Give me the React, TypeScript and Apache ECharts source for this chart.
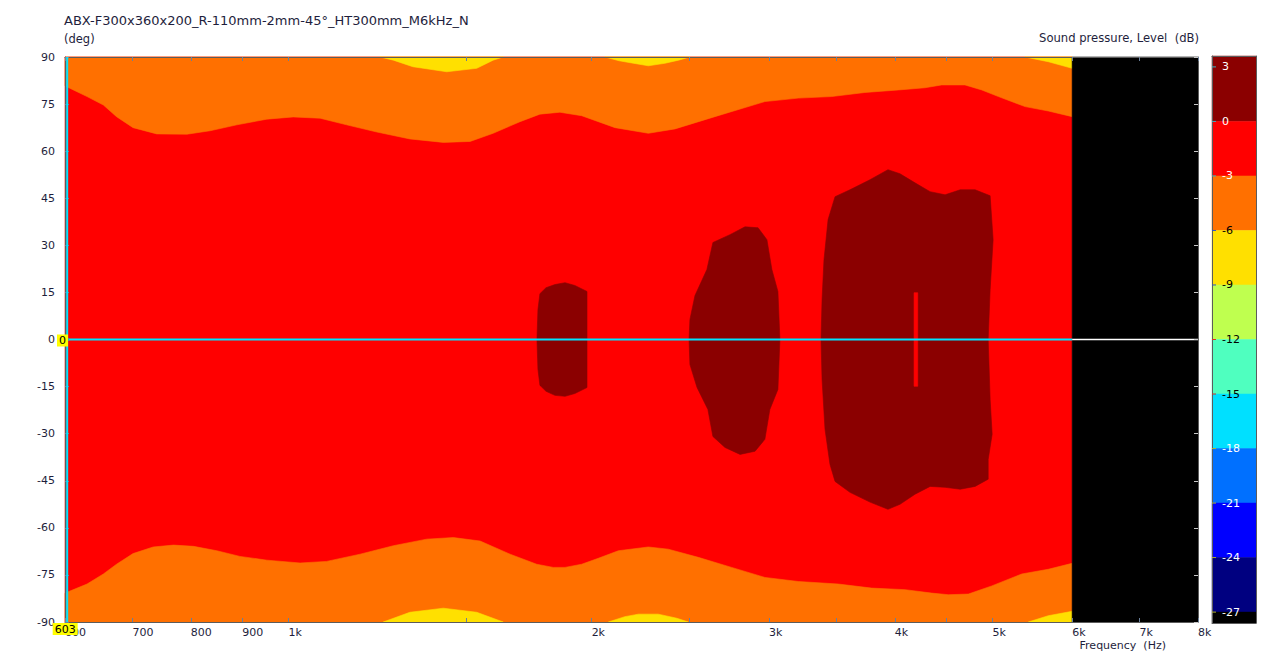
import { useEffect, useRef } from 'react';
import * as echarts from 'echarts';

// ---------- texts ----------
const CHART_TITLE = 'ABX-F300x360x200_R-110mm-2mm-45°_HT300mm_M6kHz_N';
const Y_NAME = '(deg)';
const X_NAME = 'Frequency  (Hz)';
const SCALE_NAME = 'Sound pressure, Level  (dB)';

// ---------- axes ----------
const FREQ_MIN = 600;
const FREQ_MAX = 8000;
const FREQ_DATA_MAX = 6000;
const ANGLE_MIN = -90;
const ANGLE_MAX = 90;
const ANGLE_STEP = 15;
const X_TICK_FREQS = [600, 700, 800, 900, 1000, 1500, 2000, 2500, 3000, 3500, 4000, 4500, 5000, 6000, 7000, 8000];
const X_LABEL_FREQS = [600, 700, 800, 900, 1000, 2000, 3000, 4000, 5000, 6000, 7000, 8000];

// ---------- cursor ----------
const CURSOR_FREQ = 603;
const CURSOR_ANGLE = 0;

// ---------- contour regions [Hz, deg] ----------
// -3 dB contour, upper side
const TOP_EDGE = [
  [600, 80.8], [631, 77.4], [655, 74.7], [675, 71.0], [701, 67.5], [740, 65.5], [793, 65.4], [836, 66.5],
  [889, 68.4], [952, 70.2], [1011, 70.9], [1075, 70.5], [1142, 68.4], [1224, 66.1], [1320, 63.9], [1425, 62.8],
  [1515, 63.1], [1597, 65.7], [1698, 69.4], [1777, 71.8], [1860, 72.4], [1955, 71.3], [2110, 67.5], [2277, 65.7],
  [2420, 67.1], [2651, 71.0], [2972, 75.8], [3208, 76.9], [3462, 77.4], [3736, 78.7], [4033, 79.5], [4285, 80.2],
  [4452, 81.1], [4696, 81.1], [4880, 79.5], [5069, 77.4], [5387, 74.2], [5681, 72.8], [6000, 71.0],
];
// -3 dB contour, lower side
const BOTTOM_EDGE = [
  [600, -80.8], [631, -77.9], [655, -74.7], [675, -71.6], [701, -68.2], [734, -66.1], [769, -65.5], [805, -65.9],
  [849, -67.3], [895, -69.1], [952, -70.3], [1027, -71.2], [1091, -70.7], [1178, -68.4], [1271, -65.7], [1372, -63.6],
  [1458, -63.1], [1550, -64.2], [1660, -68.4], [1764, -71.6], [1832, -72.6], [1882, -72.6], [1955, -71.6], [2031, -69.7],
  [2126, -67.3], [2277, -66.1], [2383, -66.8], [2552, -69.4], [2754, -72.6], [2972, -75.8], [3208, -77.1], [3515, -77.9],
  [3793, -79.2], [4095, -79.7], [4352, -80.8], [4520, -81.3], [4732, -81.1], [4993, -78.5], [5347, -74.7], [5681, -73.2],
  [6000, -71.3],
];
// -6 dB regions
const YELLOW_TOP_1 = [[1233, 90], [1271, 89.0], [1329, 86.9], [1436, 85.3], [1538, 86.4], [1597, 89.0], [1634, 90]];
const YELLOW_TOP_2 = [[2062, 90], [2130, 88.8], [2192, 88.1], [2277, 87.2], [2365, 88.0], [2440, 89.0], [2504, 90]];
const YELLOW_TOP_3 = [[5387, 90], [5681, 88.5], [6000, 86.4], [6000, 90]];
const YELLOW_BOTTOM_1 = [[1242, -90], [1320, -86.9], [1425, -85.6], [1538, -86.9], [1634, -90]];
const YELLOW_BOTTOM_2 = [[2078, -90], [2158, -88.3], [2226, -87.5], [2329, -87.5], [2430, -88.8], [2495, -90]];
const YELLOW_BOTTOM_3 = [[5428, -90], [5681, -88.0], [6000, -86.6], [6000, -90]];
// > 0 dB regions
const PEAK_A = [
  [1765, 0], [1769, 9.5], [1777, 14.6], [1802, 16.5], [1839, 17.5], [1882, 18.1], [1925, 17.2], [1979, 15.3],
  [1979, -15.3], [1925, -17.2], [1882, -18.1], [1839, -17.8], [1802, -16.5], [1777, -14.6], [1769, -9.5],
];
const PEAK_B = [
  [2499, 0], [2504, 6.4], [2533, 14.0], [2603, 22.3], [2639, 30.9], [2744, 33.4], [2840, 35.9], [2926, 35.6],
  [2986, 31.8], [3020, 22.3], [3062, 15.3], [3076, 0], [3062, -15.9], [3006, -22.3], [2972, -31.8], [2906, -35.6],
  [2808, -36.6], [2713, -34.4], [2639, -30.9], [2609, -22.3], [2545, -15.3], [2504, -8.0],
];
const PEAK_C = [
  [3379, 0], [3387, 12.7], [3402, 25.4], [3434, 38.2], [3489, 45.5], [3610, 47.7], [3779, 50.9], [3938, 54.1],
  [4048, 52.8], [4189, 49.9], [4336, 47.1], [4487, 46.1], [4645, 47.7], [4806, 47.7], [4974, 45.8], [5008, 31.8],
  [4974, 15.9], [4952, 0], [4974, -19.1], [4997, -30.2], [4952, -38.2], [4952, -44.5], [4806, -46.8], [4645, -47.7],
  [4487, -47.1], [4336, -46.8], [4189, -49.3], [4048, -52.5], [3938, -54.1], [3779, -51.8], [3610, -48.7], [3489, -45.2],
  [3449, -39.8], [3410, -28.6], [3387, -12.7],
];
const PEAK_C_NOTCH = [[4180, 14.9], [4215, 14.9], [4215, -14.9], [4180, -14.9]];

// ---------- colour scale ----------
const SCALE_LEVELS = [3, 0, -3, -6, -9, -12, -15, -18, -21, -24, -27];
const SCALE_MAX = 3.6;
const SCALE_MIN = -27.6;
const SCALE_COLORS = ['#8B0000', '#FF0000', '#FF7000', '#FFE000', '#BFFF4F', '#4FFFBF', '#00E0FF', '#0070FF', '#0000FF', '#000080', '#000000'];
const SCALE_LABEL_COLORS = ['#fff', '#fff', '#fff', '#000', '#000', '#000', '#000', '#fff', '#fff', '#fff', '#fff'];
const SCALE_TICK_COLORS = ['#3cb0c0', '#3cb0c0', '#3cb0c0', '#3050c0', '#3050c0', '#e03020', '#e03020', '#b0b030', '#b0b030', '#b0b030', '#b0b030'];

const COLOR_DARKRED = SCALE_COLORS[0];
const COLOR_RED = SCALE_COLORS[1];
const COLOR_ORANGE = SCALE_COLORS[2];
const COLOR_YELLOW = SCALE_COLORS[3];
const COLOR_NODATA = '#000000';
const COLOR_CURSOR = '#00E4FF';
const TEXT_COLOR = '#1e1e3c';
const FONT = '"DejaVu Sans", Verdana, sans-serif';

const lg = (f: number) => Math.log10(f);

function areaSeries(name: string, pts: number[][], color: string) {
  const data = pts.map(([f, a]) => [lg(f), a]);
  return {
    type: 'custom',
    name,
    xAxisIndex: 0,
    yAxisIndex: 0,
    silent: true,
    z: 2,
    data,
    renderItem: (params: any, api: any) => {
      if (params.dataIndex !== 0) return null;
      return {
        type: 'polygon',
        shape: { points: data.map((d) => api.coord(d)) },
        style: { fill: color, stroke: color, lineWidth: 0.6 },
      };
    },
  };
}

function buildOption() {
  const xMin = lg(FREQ_MIN);
  const xMax = lg(FREQ_MAX);
  const fmtFreq = (v: number) => {
    const f = Math.round(Math.pow(10, v));
    return f >= 1000 ? f / 1000 + 'k' : String(f);
  };
  const scaleEdges = [SCALE_MAX, ...SCALE_LEVELS.slice(1), SCALE_MIN];

  const frameAxis = { show: true, onZero: false, lineStyle: { color: '#5c5c5c', width: 1 } };
  const titleStyle = (size: number) => ({ fontSize: size, fontWeight: 'normal', color: TEXT_COLOR, fontFamily: FONT });

  return {
    animation: false,
    backgroundColor: '#ffffff',
    textStyle: { fontFamily: FONT },
    title: [
      { text: CHART_TITLE, left: 64, top: 14, padding: 0, textStyle: titleStyle(13) },
      { text: Y_NAME, left: 64, top: 33, padding: 0, textStyle: titleStyle(11.5) },
      { text: SCALE_NAME, right: 71, top: 32, padding: 0, textStyle: titleStyle(11.6) },
      { text: X_NAME, right: 104, top: 640, padding: 0, textStyle: titleStyle(11) },
    ],
    grid: [
      { left: 65, top: 57, width: 1133, height: 565 },
      { left: 1212, top: 56, width: 44, height: 567 },
    ],
    xAxis: [
      {
        type: 'value', gridIndex: 0, position: 'bottom', min: xMin, max: xMax, z: 10,
        axisLine: frameAxis,
        axisTick: { show: true, inside: true, length: 4, customValues: X_TICK_FREQS.map(lg), lineStyle: { color: '#6a7f9a' } },
        axisLabel: {
          show: true, customValues: X_LABEL_FREQS.map(lg), formatter: fmtFreq, align: 'left', margin: 5,
          fontSize: 11, color: TEXT_COLOR, fontFamily: FONT,
        },
        splitLine: { show: false },
      },
      {
        type: 'value', gridIndex: 0, position: 'top', min: xMin, max: xMax, z: 10,
        axisLine: frameAxis,
        axisTick: { show: true, inside: true, length: 4, customValues: X_TICK_FREQS.map(lg), lineStyle: { color: '#6a7f9a' } },
        axisLabel: { show: false },
        splitLine: { show: false },
      },
      { type: 'value', gridIndex: 1, position: 'bottom', min: 0, max: 1, z: 10, axisLine: frameAxis, axisTick: { show: false }, axisLabel: { show: false }, splitLine: { show: false } },
      { type: 'value', gridIndex: 1, position: 'top', min: 0, max: 1, z: 10, axisLine: frameAxis, axisTick: { show: false }, axisLabel: { show: false }, splitLine: { show: false } },
    ],
    yAxis: [
      {
        type: 'value', gridIndex: 0, position: 'left', min: ANGLE_MIN, max: ANGLE_MAX, interval: ANGLE_STEP, z: 10,
        axisLine: frameAxis,
        axisTick: { show: true, inside: true, length: 4, lineStyle: { color: '#6a7f9a' } },
        axisLabel: { show: true, margin: 10, fontSize: 11, color: TEXT_COLOR, fontFamily: FONT },
        splitLine: { show: false },
      },
      {
        type: 'value', gridIndex: 0, position: 'right', min: ANGLE_MIN, max: ANGLE_MAX, interval: ANGLE_STEP, z: 10,
        axisLine: frameAxis,
        axisTick: { show: true, inside: true, length: 4, lineStyle: { color: '#c8c8c8' } },
        axisLabel: { show: false },
        splitLine: { show: false },
      },
      { type: 'value', gridIndex: 1, position: 'left', min: SCALE_MIN, max: SCALE_MAX, z: 10, axisLine: frameAxis, axisTick: { show: false }, axisLabel: { show: false }, splitLine: { show: false } },
      { type: 'value', gridIndex: 1, position: 'right', min: SCALE_MIN, max: SCALE_MAX, z: 10, axisLine: frameAxis, axisTick: { show: false }, axisLabel: { show: false }, splitLine: { show: false } },
    ],
    series: [
      areaSeries('0..-3 dB', [[FREQ_MIN, ANGLE_MIN], [FREQ_DATA_MAX, ANGLE_MIN], [FREQ_DATA_MAX, ANGLE_MAX], [FREQ_MIN, ANGLE_MAX]], COLOR_RED),
      areaSeries('-3..-6 dB top', [...TOP_EDGE, [FREQ_DATA_MAX, ANGLE_MAX], [FREQ_MIN, ANGLE_MAX]], COLOR_ORANGE),
      areaSeries('-3..-6 dB bottom', [...BOTTOM_EDGE, [FREQ_DATA_MAX, ANGLE_MIN], [FREQ_MIN, ANGLE_MIN]], COLOR_ORANGE),
      areaSeries('-6 dB top 1', YELLOW_TOP_1, COLOR_YELLOW),
      areaSeries('-6 dB top 2', YELLOW_TOP_2, COLOR_YELLOW),
      areaSeries('-6 dB top 3', YELLOW_TOP_3, COLOR_YELLOW),
      areaSeries('-6 dB bottom 1', YELLOW_BOTTOM_1, COLOR_YELLOW),
      areaSeries('-6 dB bottom 2', YELLOW_BOTTOM_2, COLOR_YELLOW),
      areaSeries('-6 dB bottom 3', YELLOW_BOTTOM_3, COLOR_YELLOW),
      areaSeries('>0 dB A', PEAK_A, COLOR_DARKRED),
      areaSeries('>0 dB B', PEAK_B, COLOR_DARKRED),
      areaSeries('>0 dB C', PEAK_C, COLOR_DARKRED),
      areaSeries('>0 dB C notch', PEAK_C_NOTCH, COLOR_RED),
      areaSeries('no data', [[FREQ_DATA_MAX, ANGLE_MIN], [FREQ_MAX, ANGLE_MIN], [FREQ_MAX, ANGLE_MAX], [FREQ_DATA_MAX, ANGLE_MAX]], COLOR_NODATA),
      // cursor lines
      {
        type: 'line', xAxisIndex: 0, yAxisIndex: 0, silent: true, z: 5, showSymbol: false, symbol: 'none',
        data: [[lg(FREQ_MIN), CURSOR_ANGLE], [lg(FREQ_DATA_MAX), CURSOR_ANGLE]],
        lineStyle: { color: COLOR_CURSOR, width: 2 },
      },
      {
        type: 'line', xAxisIndex: 0, yAxisIndex: 0, silent: true, z: 5, showSymbol: false, symbol: 'none',
        data: [[lg(FREQ_DATA_MAX), CURSOR_ANGLE], [lg(FREQ_MAX), CURSOR_ANGLE]],
        lineStyle: { color: '#ffffff', width: 1.6 },
      },
      {
        type: 'line', xAxisIndex: 0, yAxisIndex: 0, silent: true, z: 12, showSymbol: false, symbol: 'none',
        data: [[lg(CURSOR_FREQ), ANGLE_MIN], [lg(CURSOR_FREQ), ANGLE_MAX]],
        lineStyle: { color: COLOR_CURSOR, width: 2 },
      },
      // cursor read-outs
      {
        type: 'custom', xAxisIndex: 0, yAxisIndex: 0, silent: true, z: 20,
        data: [[lg(CURSOR_FREQ), ANGLE_MIN, 0], [lg(FREQ_MIN), CURSOR_ANGLE, 1]],
        renderItem: (params: any, api: any) => {
          const p = api.coord([api.value(0), api.value(1)]);
          if (params.dataIndex === 0) {
            return {
              type: 'text', x: p[0] - 2, y: p[1] + 1,
              style: {
                text: String(CURSOR_FREQ), fill: '#000', backgroundColor: '#FFFF00', padding: [1, 2, 0, 2],
                align: 'center', verticalAlign: 'top', fontSize: 11, fontFamily: FONT,
              },
            };
          }
          return {
            type: 'text', x: p[0] + 3, y: p[1] + 1,
            style: {
              text: String(CURSOR_ANGLE), fill: '#000', backgroundColor: '#FFFF00', padding: [1, 2, 0, 2],
              align: 'right', verticalAlign: 'middle', fontSize: 11, fontFamily: FONT,
            },
          };
        },
      },
      // colour scale bands
      {
        type: 'custom', xAxisIndex: 2, yAxisIndex: 2, silent: true, z: 2,
        data: SCALE_COLORS.map((_, i) => [0, scaleEdges[i], scaleEdges[i + 1]]),
        encode: { x: 0, y: [1, 2] },
        renderItem: (params: any, api: any) => {
          const a = api.coord([0, api.value(1)]);
          const b = api.coord([1, api.value(2)]);
          const c = SCALE_COLORS[params.dataIndex];
          return {
            type: 'rect',
            shape: { x: a[0], y: a[1], width: b[0] - a[0], height: b[1] - a[1] },
            style: { fill: c, stroke: c, lineWidth: 0.5 },
          };
        },
      },
      // colour scale labels
      {
        type: 'custom', xAxisIndex: 2, yAxisIndex: 2, silent: true, z: 15,
        data: SCALE_LEVELS.map((l) => [0, l]),
        renderItem: (params: any, api: any) => {
          const p = api.coord([0, api.value(1)]);
          const i = params.dataIndex;
          return {
            type: 'group',
            children: [
              { type: 'line', shape: { x1: p[0], y1: p[1], x2: p[0] + 4, y2: p[1] }, style: { stroke: SCALE_TICK_COLORS[i], lineWidth: 1 } },
              {
                type: 'text', x: p[0] + 10, y: p[1],
                style: { text: String(SCALE_LEVELS[i]), fill: SCALE_LABEL_COLORS[i], align: 'left', verticalAlign: 'middle', fontSize: 11, fontFamily: FONT },
              },
            ],
          };
        },
      },
    ],
  };
}

export default function App() {
  const ref = useRef<HTMLDivElement>(null);
  useEffect(() => {
    if (!ref.current) return;
    const chart = echarts.init(ref.current, null, { renderer: 'svg' });
    chart.setOption(buildOption() as any);
    return () => chart.dispose();
  }, []);
  return (
    <div
      ref={ref}
      style={{ position: 'absolute', left: 0, top: 0, width: 1270, height: 658, background: '#ffffff' }}
    />
  );
}
